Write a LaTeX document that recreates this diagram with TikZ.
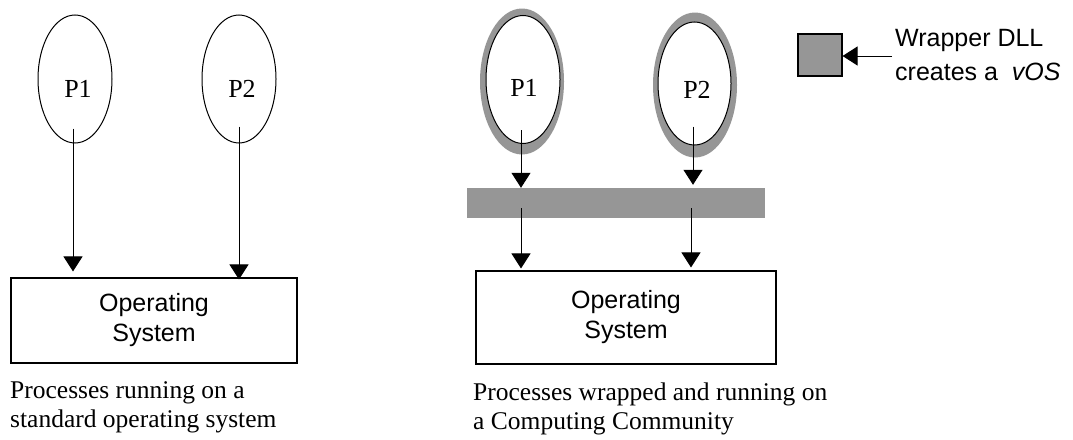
\documentclass[tikz,border=0pt]{standalone}
\usepackage{fontspec}
\setmainfont{Liberation Serif}
\setsansfont{Liberation Sans}
\usetikzlibrary{shapes.geometric,arrows.meta,calc}
\definecolor{wrapgray}{RGB}{150,150,150}
\begin{document}
\begin{tikzpicture}[x=1pt,y=-1pt,
  proc/.style={ellipse,draw,line width=1pt,fill=white,inner sep=0pt,minimum width=74pt,minimum height=128pt},
  ring/.style={ellipse,fill=wrapgray,inner sep=0pt,minimum width=84pt,minimum height=146pt},
  plabel/.style={font=\fontsize{26}{28}\selectfont,inner sep=0pt},
  osbox/.style={draw,line width=1.1pt,inner sep=0pt,align=center,font=\sffamily\fontsize{25}{30}\selectfont},
  caption/.style={anchor=west,align=left,inner sep=0pt,font=\fontsize{25.5}{29}\selectfont},
  arr/.style={line width=1pt,-{Triangle[length=15pt,width=19pt]}}]
\useasboundingbox (0,0) rectangle (1073,439);

% ---------- left diagram ----------
\node[proc] (lp1) at (75,79) {};
\node[plabel] (lp1t) at (78,89) {P1};
\node[proc] (lp2) at (239,79) {};
\node[plabel] (lp2t) at (242,89) {P2};
\node[osbox,minimum width=286pt,minimum height=85pt] (los) at (154,320.5) {Operating\\System};
\coordinate (la1) at ([xshift=-2pt,yshift=15pt]lp1.south);
\coordinate (la2) at ([yshift=17pt]lp2.south);
\draw[arr] (la1) -- ($(la1 |- los.north)+(0,-6)$);
\draw[arr] (la2) -- ($(la2 |- los.north)+(0,2)$);
\node[caption] (lcap) at (10,407.5) {Processes running on a\\standard operating system};

% ---------- right diagram ----------
\node[ring] (rw1) at (522,81.5) {};
\node[proc] (rp1) at (523,79.5) {};
\node[plabel] (rp1t) at (524,88) {P1};
\node[ring,minimum height=145pt] (rw2) at (695,85) {};
\node[proc,minimum width=73pt,minimum height=123pt] (rp2) at (694.5,83.5) {};
\node[plabel] (rp2t) at (697,90) {P2};
\node[fill=wrapgray,inner sep=0pt,minimum width=298pt,minimum height=30pt] (bar) at (616,203) {};
\node[osbox,minimum width=300pt,minimum height=93pt] (ros) at (626,317.5) {Operating\\System};
\coordinate (ra1) at ([xshift=-2pt,yshift=14pt]rp1.south);
\coordinate (ra2) at ([xshift=-1.5pt,yshift=19pt]rp2.south);
\draw[arr] (ra1) -- (ra1 |- bar.north);
\draw[arr] (ra2) -- ($(ra2 |- bar.north)+(0,-3)$);
\coordinate (rb1) at ($(ra1 |- bar.south)+(0,-10)$);
\coordinate (rb2) at ($(ra2 |- bar.south)+(-2,-10)$);
\draw[arr] (rb1) -- ($(rb1 |- ros.north)+(0,-2)$);
\draw[arr] (rb2) -- ($(rb2 |- ros.north)+(0,-3)$);
\node[caption] (rcap) at (473,408.5) {Processes wrapped and running on\\a Computing Community};

% ---------- legend ----------
\node[draw,line width=1.1pt,fill=wrapgray,inner sep=0pt,minimum width=44pt,minimum height=42pt] (sq) at (820,55) {};
\node[anchor=west,align=left,inner sep=3pt,font=\sffamily\fontsize{25}{34}\selectfont] (leg) at (892,55) {Wrapper DLL\\creates a\ \ \textit{vOS}};
\draw[arr] ($(leg.west)+(0,1)$) -- ($(sq.east)+(0,1)$);
\end{tikzpicture}
\end{document}
